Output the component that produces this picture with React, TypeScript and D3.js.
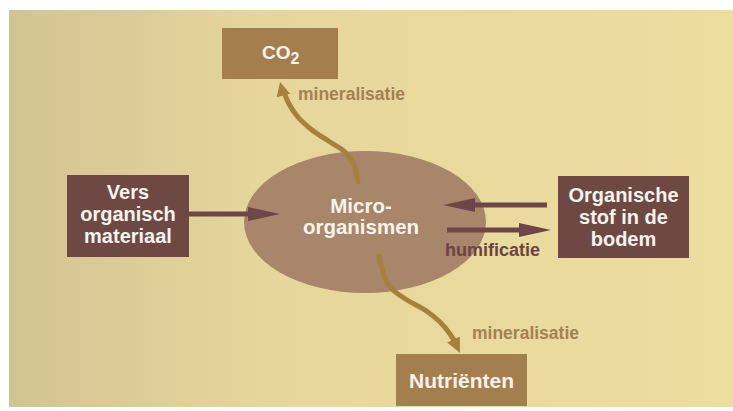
import React from 'react';
import * as d3 from 'd3';

// Diagram content
const boxLabels = {
  vers: ['Vers', 'organisch', 'materiaal'],
  organic: ['Organische', 'stof in de', 'bodem'],
  nutrients: ['Nutriënten'],
};
const centerLabels = ['Micro-', 'organismen'];
const flowLabels = ['mineralisatie', 'humificatie', 'mineralisatie'];

// Layout
const W = 733;
const H = 411;
const FONT = "'Liberation Sans', Arial, sans-serif";

const C = {
  bg1: '#d2c393',
  bg2: '#e6d69b',
  bg3: '#eddd9f',
  dark: '#6e4943',
  tan: '#a47f4e',
  ellipse: '#a7866a',
  arrowDark: '#6d4647',
  arrowTan: '#a5803f',
  textTan: '#a48152',
  textDark: '#6a4444',
  white: '#f8f4ec',
};

const topCurve: [number, number][] = [
  [358, 182], [354, 165], [345, 152], [330, 142], [312, 130], [297, 116], [288, 102], [284, 92],
];
const bottomCurve: [number, number][] = [
  [379, 256], [383, 272], [390, 287], [407, 300], [425, 310], [440, 322], [450, 334], [455, 342],
];

const line = d3.line().curve(d3.curveCatmullRom.alpha(0.5));

function head(tip: [number, number], angle: number, len: number, half: number) {
  const [x, y] = tip;
  const ca = Math.cos(angle), sa = Math.sin(angle);
  const bx = x - ca * len, by = y - sa * len;
  const p1 = [bx - sa * half, by + ca * half];
  const p2 = [bx + sa * half, by - ca * half];
  return `M${x},${y}L${p1[0]},${p1[1]}L${p2[0]},${p2[1]}Z`;
}

function Box({ x, y, w, h, fill, lines, size, lh, baseY }: any) {
  return (
    <g>
      <rect x={x} y={y} width={w} height={h} fill={fill} />
      {lines.map((t: string, i: number) => (
        <text key={i} x={x + w / 2} y={baseY + i * lh} textAnchor="middle" fontFamily={FONT}
          fontWeight={700} fontSize={size} fill={C.white}>{t}</text>
      ))}
    </g>
  );
}

export default function App() {
  return (
    <svg width={W} height={H} style={{ position: 'absolute', left: 0, top: 0 }}>
      <defs>
        <linearGradient id="bg" x1="0" x2="1" y1="0" y2="0">
          <stop offset="0" stopColor={C.bg1} />
          <stop offset="0.35" stopColor={C.bg2} />
          <stop offset="1" stopColor={C.bg3} />
        </linearGradient>
      </defs>
      <rect width={W} height={H} fill="#ffffff" />
      <rect x={9} y={10} width={W - 9} height={397} fill="url(#bg)" />

      <ellipse cx={365} cy={222} rx={121} ry={71} fill={C.ellipse} />

      {/* CO2 box */}
      <rect x={222} y={28} width={116} height={51} fill={C.tan} />
      <text x={262} y={59} fontFamily={FONT} fontWeight={700} fontSize={19} fill={C.white}>
        CO<tspan dy={5} fontSize={16}>2</tspan>
      </text>

      <Box x={67} y={175} w={122} h={82} fill={C.dark} lines={boxLabels.vers} size={20} lh={22} baseY={199} />
      <Box x={558} y={176} w={131} h={82} fill={C.dark} lines={boxLabels.organic} size={20} lh={22} baseY={202} />
      <Box x={396} y={354} w={131} h={52} fill={C.tan} lines={boxLabels.nutrients} size={21} lh={22} baseY={388} />

      {/* center label */}
      {centerLabels.map((t, i) => (
        <text key={t} x={361} y={213 + i * 21} textAnchor="middle" fontFamily={FONT} fontWeight={700}
          fontSize={20.5} fill={C.white}>{t}</text>
      ))}

      {/* horizontal arrows */}
      <line x1={189} x2={255} y1={214} y2={214} stroke={C.arrowDark} strokeWidth={5} />
      <path d={head([280, 214], 0, 32, 7)} fill={C.arrowDark} />
      <line x1={547} x2={470} y1={205} y2={205} stroke={C.arrowDark} strokeWidth={5} />
      <path d={head([443, 205], Math.PI, 32, 7)} fill={C.arrowDark} />
      <line x1={447} x2={525} y1={230} y2={230} stroke={C.arrowDark} strokeWidth={5} />
      <path d={head([551, 230], 0, 32, 7)} fill={C.arrowDark} />

      {/* curved arrows */}
      <path d={line(topCurve) || ''} fill="none" stroke={C.arrowTan} strokeWidth={5} strokeLinecap="round" />
      <path d={head([280, 82], -Math.PI / 2 - 0.25, 14, 7)} fill={C.arrowTan} />
      <path d={line(bottomCurve) || ''} fill="none" stroke={C.arrowTan} strokeWidth={5} strokeLinecap="round" />
      <path d={head([460, 353], Math.PI / 2 - 0.45, 15, 7)} fill={C.arrowTan} />

      {/* flow labels */}
      <text x={298} y={100} fontFamily={FONT} fontWeight={700} fontSize={17.5} fill={C.textTan}>{flowLabels[0]}</text>
      <text x={445} y={256} fontFamily={FONT} fontWeight={700} fontSize={18} fill={C.textDark}>{flowLabels[1]}</text>
      <text x={472} y={339} fontFamily={FONT} fontWeight={700} fontSize={17.5} fill={C.textTan}>{flowLabels[2]}</text>
    </svg>
  );
}
